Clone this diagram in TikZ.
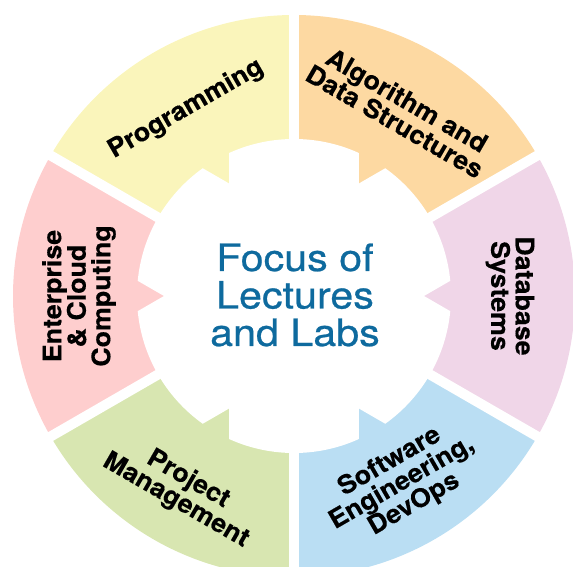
\documentclass[tikz,border=0pt]{standalone}
\usepackage{fontspec}
\newfontfamily\labfont[FakeStretch=1.05,FakeBold=0.4]{TeX Gyre Heros}
\newfontfamily\ctrfont[FakeStretch=1.1,FakeBold=0.6]{TeX Gyre Heros}
\definecolor{cprog}{RGB}{250,245,187}
\definecolor{calgo}{RGB}{253,217,162}
\definecolor{cdb}{RGB}{240,214,232}
\definecolor{csoft}{RGB}{186,222,243}
\definecolor{cproj}{RGB}{216,230,177}
\definecolor{cent}{RGB}{254,206,206}
\definecolor{ctrblue}{RGB}{14,106,158}
\begin{document}
\begin{tikzpicture}[x=1pt,y=1pt,
  lab/.style={font=\labfont\bfseries\fontsize{25.5}{24.5}\selectfont, align=center, text=black, inner sep=0pt},
  ctr/.style={font=\ctrfont\fontsize{37.5}{37.5}\selectfont, align=center, text=ctrblue, inner sep=0pt},
  gapline/.style={white, line width=10pt}]
\useasboundingbox (-294,-271) rectangle (279,296);
% sectors
\fill[cprog] (0,0) -- (90:281) arc (90:150:281) -- cycle;
\fill[calgo] (0,0) -- (30:281) arc (30:90:281) -- cycle;
\fill[cdb]   (0,0) -- (-30:281) arc (-30:30:281) -- cycle;
\fill[csoft] (0,0) -- (-90:281) arc (-90:-30:281) -- cycle;
\fill[cproj] (0,0) -- (-150:281) arc (-150:-90:281) -- cycle;
\fill[cent]  (0,0) -- (150:281) arc (150:210:281) -- cycle;
% gaps
\foreach \a in {90,30,-30} \draw[gapline] (\a:300) -- (\a+180:300);
% white centre with notches
\begin{scope}
  \clip (0,0) circle (157);
  \foreach \a in {90,30,-30} \fill[white, rotate=\a] (-170,-65) rectangle (170,65);
\end{scope}
% labels
\node[ctr] (focus) at (1,1) {Focus of\\Lectures\\and Labs};
\node[lab, rotate=30]  (prog) at (120:216) {Programming};
\node[lab, rotate=-30] (algo) at (60:214) {Algorithm and\\Data Structures};
\node[lab, rotate=-90] (db)   at (0:216) {Database\\Systems};
\node[lab, rotate=30]  (soft) at (-60:216) {Software\\Engineering,\\DevOps};
\node[lab, rotate=-30] (proj) at (-120:224) {Project\\Management};
\node[lab, rotate=90]  (ent)  at (180:215) {Enterprise\\\& Cloud\\Computing};
\end{tikzpicture}
\end{document}
